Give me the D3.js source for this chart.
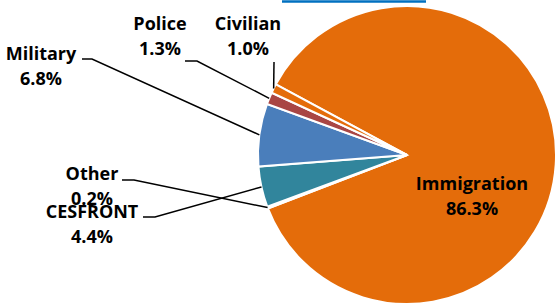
<!DOCTYPE html>
<html>
<head>
<meta charset="utf-8">
<script src="https://cdn.jsdelivr.net/npm/d3@7"></script>
<style>
  body { margin: 0; background: #fff; }
  svg { display: block; }
  .lbl { font-family: "Open Sans", "Liberation Sans", sans-serif; font-weight: bold; font-size: 18px; fill: #000; }
</style>
</head>
<body>
<svg id="chart" width="556" height="304"></svg>
<script>
// slice data, clockwise from the first slice
var categories = ["Immigration", "Other", "CESFRONT", "Military", "Police", "Civilian"];
var shares = [86.3, 0.2, 4.4, 6.8, 1.3, 1.0];
var colors = ["#e46c0a", "#e46c0a", "#31859c", "#4a7ebb", "#a94644", "#e46c0a"];

// label anchors (text centre, first baseline) and the leader elbow
var labelPos = {
  "Immigration": [472, 190],
  "Other": [92, 180],
  "CESFRONT": [92, 218],
  "Military": [41, 60],
  "Police": [160, 30],
  "Civilian": [248, 30]
};
var elbows = {
  "Other": [[122, 180], [134, 180]],
  "CESFRONT": [[143, 217], [155, 217]],
  "Military": [[82, 59], [92, 59]],
  "Police": [[185, 61], [197, 61]],
  "Civilian": [[274, 62]]
};

var width = 556, height = 304;
var cx = 407, cy = 155, radius = 149;
var svg = d3.select("#chart");

// cut-off hyperlink underline at top
svg.append("line")
  .attr("x1", 282).attr("x2", 426)
  .attr("y1", 1.5).attr("y2", 1.5)
  .attr("stroke", "#0070c0")
  .attr("stroke-width", 2.5);

var startAngle = -61.7 * Math.PI / 180;
var pie = d3.pie()
  .sort(null)
  .value(function(d) { return d.v; })
  .startAngle(startAngle)
  .endAngle(startAngle + 2 * Math.PI);

var data = categories.map(function(c, i) { return { name: c, v: shares[i], color: colors[i] }; });
var arcs = pie(data);

var arc = d3.arc().innerRadius(0).outerRadius(radius);
var edge = d3.arc().innerRadius(radius).outerRadius(radius);

var g = svg.append("g").attr("transform", "translate(" + cx + "," + cy + ")");

g.selectAll("path")
  .data(arcs)
  .enter()
  .append("path")
  .attr("d", arc)
  .attr("fill", function(d) { return d.data.color; })
  .attr("stroke", "#fff")
  .attr("stroke-width", 2);

// leader lines
arcs.forEach(function(d) {
  var pts = elbows[d.data.name];
  if (!pts) return;
  var e = edge.centroid(d);
  var line = pts.concat([[e[0] + cx, e[1] + cy]]);
  svg.append("path")
    .attr("d", d3.line()(line))
    .attr("fill", "none")
    .attr("stroke", "#000")
    .attr("stroke-width", 1.5);
});

// labels
arcs.forEach(function(d) {
  var p = labelPos[d.data.name];
  var t = svg.append("text")
    .attr("class", "lbl")
    .attr("text-anchor", "middle")
    .attr("x", p[0]).attr("y", p[1]);
  t.append("tspan").attr("x", p[0]).text(d.data.name);
  t.append("tspan").attr("x", p[0]).attr("dy", 24.5).text(d.data.v.toFixed(1) + "%");
});
</script>
</body>
</html>
